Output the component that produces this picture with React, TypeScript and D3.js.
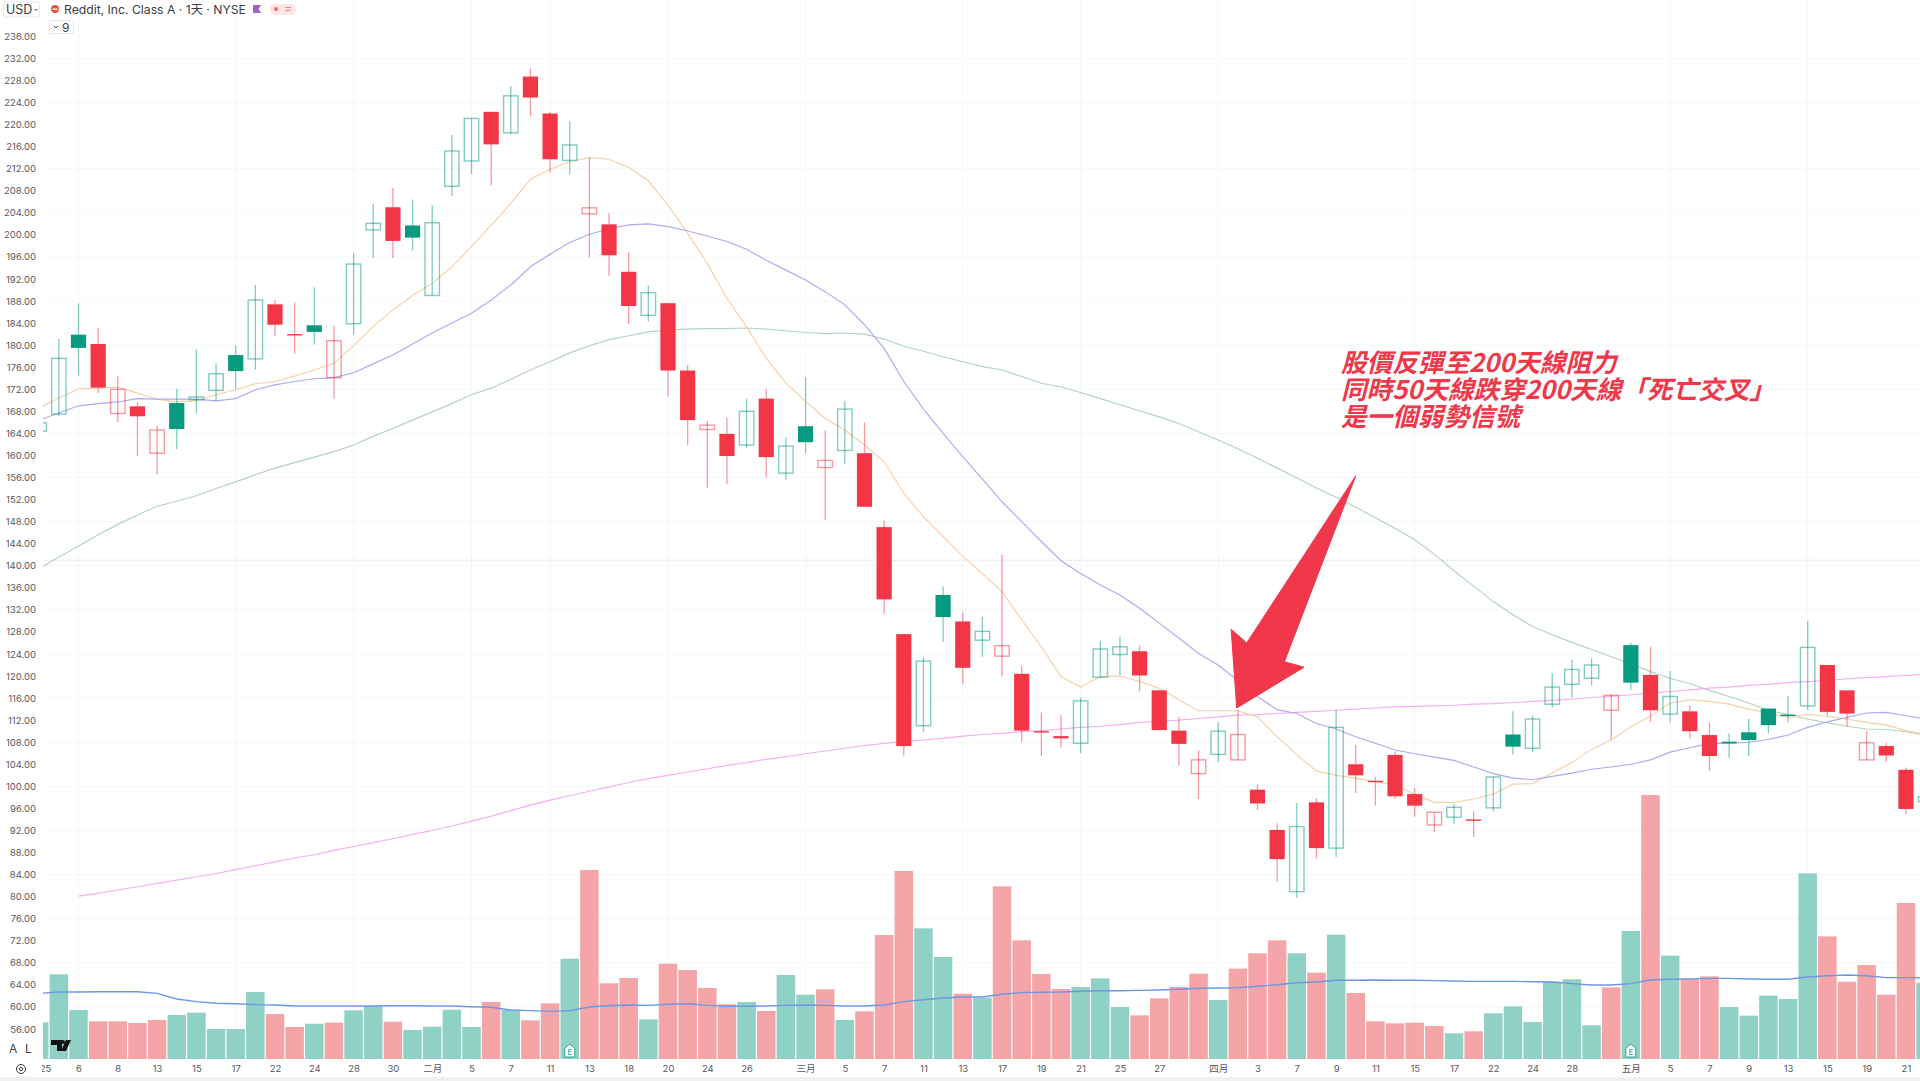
import { useEffect } from "react";
import * as d3 from "d3";

// price candles, one entry per trading day
const opens = [164.4,167.5,181.9,180.2,167.6,168.9,160.4,169.5,170.1,171.8,178.2,177.5,187.4,182,183.6,174.1,183.9,200.9,205,201.7,189,208.8,213.4,222.3,218.5,228.7,222,213.5,203.8,201.9,193.3,185.4,187.6,175.4,164.7,163.9,161.9,170.3,156.8,165.3,157.8,160.9,160.4,147,127.6,111,134.7,129.9,126.5,123.6,120.4,110,109.1,107.8,119.8,123.9,124.5,117.4,110.1,102.3,105.8,104.8,99.4,92.1,80.9,97.1,88.8,104,101,105.7,98.6,93,94.4,94,96.1,109.4,106.9,114.9,118.5,119.6,113.8,125.6,120.2,113.1,113.6,109.3,108.1,109.8,114.1,113,114.6,122,117.4,104.8,107.3,103,97.2];
const highs = [166,181.1,187.6,183.1,174.3,169.7,165.4,172.1,179.2,176.7,179.9,190.9,188.2,187.7,190.5,183.5,196.7,205.6,208.5,206.4,205.4,218.1,221.1,222.3,227,230.2,222.3,220.6,214,203.9,196.8,190.8,187.6,176.4,166.3,166.9,170.2,172,163.3,174.2,164.5,169.9,166,148.2,127.6,123.4,136.3,131.5,130.7,142,121.8,113.4,112.9,116.1,126.4,127.2,125.5,117.4,112.6,106.5,111.6,113.8,100.4,93.3,97,97.8,113.9,107.5,101.7,106.3,99.7,95.3,96.8,95.5,101.7,113.6,112.8,120.5,123,123.2,116.8,126.1,125.3,120.9,114.7,111.6,109.6,112.2,114.1,116.4,130,122,117.4,110,107.9,103.4,98.5];
const lows = [164,167.1,174.5,171.3,166,159.9,156.6,161.1,167.6,169.8,172.1,175.6,181.6,178.5,180.1,170.3,181.9,195.8,195.8,197.2,189,207,211,209,218.3,221.5,211.3,211,195.9,192.6,183.8,184.3,170.7,161.9,154.2,154.8,161.3,156,155.6,160.4,148.3,158.4,150.7,131.3,105.6,109.9,126.2,118.6,123.5,119.9,108.1,105.5,107,106,119.8,120.2,117.2,110.2,103.8,97.7,104.4,104.8,95.7,82.7,79.8,86.9,87.2,98.8,96.5,97.7,94.5,91.7,93.2,90.8,95.5,105.8,106.2,114.3,116.1,118.3,108.5,117.5,111.7,111.6,108.7,102.8,105.2,105.5,109.6,111.6,113.9,112.8,110.8,104.8,104.5,95,96.8];
const closes = [165.9,177.6,179.5,172.3,172,167.1,164.6,164.8,170.6,174.8,175.3,188.2,183.7,182,182.4,180.8,194.7,202.1,198.9,199.5,202.2,215.2,221.1,216.4,225.2,224.9,213.7,216.3,204.9,196.3,187.1,189.5,175.4,166.4,165.5,159.9,168,159.7,161.7,162.4,159.1,168.4,150.7,133.9,107.3,122.7,130.7,121.5,128.1,125.5,110.1,110,108.7,115.5,124.9,125.3,120.1,110.2,107.7,104.8,110,109.4,96.9,86.8,92.7,88.8,110.7,102,101,98.2,96.5,95.3,96.2,94,101.7,107.2,112.2,118,121.2,122,116.5,118.8,113.8,116.3,110,105.5,107.8,108.4,111.1,113,125.2,113.5,113.2,107.9,105.6,95.9,98.1];

// volume in millions of shares and its moving average
const volumes = [3.06,7.06,4.08,3.14,3.14,3,3.25,3.67,3.86,2.5,2.5,5.58,3.75,2.67,2.94,3.03,4.06,4.42,3.11,2.42,2.69,4.11,2.67,4.75,4.08,3.22,4.64,8.36,15.75,6.31,6.75,3.31,7.94,7.42,5.92,4.56,4.75,4,7,5.36,5.81,3.25,3.97,10.33,15.67,10.89,8.5,5.44,5.11,14.39,9.89,7.08,5.83,6,6.72,4.33,3.64,5.06,6,7.11,4.92,7.53,8.81,9.89,8.81,7.19,10.36,5.5,3.14,2.97,3.03,2.75,2.14,2.31,3.81,4.39,3.08,6.44,6.64,2.81,5.97,10.67,22,8.61,6.64,6.89,4.33,3.61,5.28,5,15.47,10.22,6.44,7.83,5.36,13,6.36];
const volumeMa = [5.47,5.58,5.58,5.61,5.61,5.61,5.47,5,4.78,4.64,4.61,4.53,4.5,4.42,4.42,4.42,4.42,4.42,4.44,4.44,4.42,4.42,4.36,4.31,4.08,4.03,3.97,4.03,4.33,4.44,4.5,4.47,4.56,4.61,4.47,4.39,4.39,4.42,4.47,4.5,4.47,4.42,4.42,4.5,4.78,4.94,5.08,5.17,5.17,5.39,5.53,5.56,5.58,5.64,5.69,5.69,5.72,5.75,5.81,5.89,5.92,5.94,6.06,6.19,6.36,6.42,6.56,6.56,6.58,6.56,6.56,6.53,6.5,6.47,6.47,6.47,6.44,6.42,6.28,6.17,6.17,6.28,6.58,6.64,6.67,6.72,6.72,6.67,6.64,6.64,6.83,6.94,7,6.94,6.78,6.78,6.78];

// moving averages on the price pane
const maOrange = [168.6,170.4,172.1,172.2,172.4,171.3,170.2,169.7,169.9,171,171.9,173,173.4,174.4,175.5,176.7,179.9,183.4,186.4,189,191.2,194.2,197.9,201.7,205.7,210.1,211.9,213.3,214,213.7,212.2,209.8,205.4,200.3,194.8,188.5,183.3,177.6,173.1,169.8,166.7,164.6,161.9,158.9,153.1,148.9,145.3,141.7,138.6,135.3,130.2,125.3,119.9,118,119.9,120,119,117.8,115.7,113.7,113.7,113.7,112.6,109,105.7,102.8,102,101.5,100.8,100.3,98.5,97.1,97.1,97.7,98.6,100.4,100.5,102.4,104.3,106.7,108.4,110.8,112.7,115.1,115.7,115.4,114.9,114,113.3,112.5,113,112.7,112.2,111.6,111.1,110.1,109.4];
const maPurple = [166.4,167.7,169,169.4,169.7,170.3,170.2,170.2,170.2,169.9,170.3,171.9,172.8,173.4,173.9,174.1,175,176.6,178.2,180.2,182.2,184,185.8,188.2,190.9,194.2,196.5,198.6,200.1,201.1,201.8,202,201.5,200.7,199.8,198.8,197.4,195.4,193.6,191.8,189.7,187.3,183.7,179.4,173.4,168.4,164,159.8,155.7,151.6,148,144.4,140.9,138.6,136.5,134.7,132.3,129.6,126.9,124.1,122,119.2,116.3,113.9,113.2,111.4,110.4,109,107.8,106.6,105.9,105.3,104.7,103.5,102.3,101.5,101.2,101.8,102.4,103.1,103.5,104,104.8,106.2,107,107.8,107.8,108,108.5,109.3,110.7,111.7,112.5,113.3,113.4,112.8,112.2];
const maGreen = [139.5,141.6,143.6,145.6,147.5,149.2,150.8,151.7,152.7,154,155.2,156.5,157.7,158.7,159.7,160.7,161.9,163.5,164.9,166.4,167.9,169.4,171,172.2,173.8,175.5,177,178.6,179.9,181,181.7,182.4,182.75,182.9,183,183,183.1,182.9,182.6,182.3,182.1,182.2,182,181.1,179.8,178.9,177.9,177,176.1,175.5,174.3,173.1,172.4,171.4,170.3,169.2,168.1,167,165.8,164.3,162.8,161.2,159.5,157.7,155.9,154.1,152.4,150.6,148.7,146.8,144.7,142.1,139.1,136.3,133.5,131.1,129,127.5,126.1,124.8,123.5,122.2,120.8,119.6,118.6,117.4,116.3,115.1,113.8,113,112.2,111.5,110.9,110.4,110.3,109.9,109.3];
const maPink = [NaN,NaN,80.1,80.6,81.2,81.8,82.4,83,83.6,84.2,84.9,85.6,86.3,87,87.6,88.4,89.1,89.8,90.5,91.3,92,92.8,93.7,94.6,95.6,96.6,97.5,98.3,99.1,99.9,100.7,101.4,102,102.6,103.2,103.8,104.3,104.9,105.4,105.9,106.4,106.9,107.4,107.8,108.1,108.4,108.7,109.1,109.4,109.6,109.9,110.1,110.4,110.7,110.9,111.2,111.6,111.8,112,112.3,112.6,112.9,113,113.2,113.4,113.6,113.8,114,114.2,114.4,114.5,114.6,114.7,114.9,115,115.2,115.4,115.6,115.8,116.1,116.3,116.6,116.9,117.2,117.5,117.8,118,118.3,118.5,118.8,119,119.2,119.5,119.7,119.9,120.1,120.3];
const priceLine = 141;

// axis labels
const priceTicks = d3.range(56, 237, 4);
const dayTicks = [0,2,4,6,8,10,12,14,16,18,20,22,24,26,28,30,32,34,36,39,41,43,45,47,49,51,53,55,57,60,62,64,66,68,70,72,74,76,78,81,83,85,87,89,91,93,95];
const dayLabels = ["2025","6","8","13","15","17","22","24","28","30","二月","5","7","11","13","18","20","24","26","三月","5","7","11","13","17","19","21","25","27","四月","3","7","9","11","15","17","22","24","28","五月","5","7","9","13","15","19","21"];
const gridDays = [2,10,16,22,26,32,39,47,53,60,70,83,90];
const gridPrices = [60,68,76,84,92,100,108,116,124,132,140,148,156,164,172,180,188,196,204,212,224,232];
const earningsDays = [27, 81];
const annotationLines = ["股價反彈至200天線阻力", "同時50天線跌穿200天線「死亡交叉」", "是一個弱勢信號"];
const arrowPoints: [number, number][] = [[67,156.3],[63.37,122.6],[64.37,121.6],[60.94,114.2],[60.66,128.5],[61.45,126]];

const RED = "#f23645";
const GREEN = "#089981";
const UI_FONT = "Inter, 'Noto Sans CJK TC', sans-serif";

function App() {
	useEffect(() => {
		drawChart();
	}, []);

	function drawChart() {
		d3.select("#chart").select("svg").remove();

		const svg = d3
			.select("#chart")
			.append("svg")
			.attr("width", 1920)
			.attr("height", 1081)
			.style("position", "absolute")
			.style("left", 0)
			.style("top", 0)
			.style("display", "block")
			.style("background", "#ffffff");

		const x = d3.scaleLinear().domain([0, 96]).range([39.2, 39.2 + 19.65 * 96]);
		const y = d3.scaleLinear().domain([56, 236]).range([1029, 36.3]);
		const yVol = d3.scaleLinear().domain([0, 22]).range([1059, 795]);

		svg.append("clipPath").attr("id", "plot").append("rect").attr("x", 43).attr("y", 0).attr("width", 1877).attr("height", 1060);
		svg.append("clipPath").attr("id", "days").append("rect").attr("x", 42).attr("y", 1060).attr("width", 1878).attr("height", 18);

		// Faint grid
		const plot = svg.append("g").attr("clip-path", "url(#plot)");
		plot.append("g")
			.selectAll("line")
			.data(gridDays)
			.join("line")
			.attr("x1", (d) => x(d))
			.attr("x2", (d) => x(d))
			.attr("y1", 0)
			.attr("y2", 1060)
			.attr("stroke", "#f4f8f8");
		plot.append("g")
			.selectAll("line")
			.data(gridPrices)
			.join("line")
			.attr("x1", 43)
			.attr("x2", 1920)
			.attr("y1", (d) => y(d))
			.attr("y2", (d) => y(d))
			.attr("stroke", "#f5f8f8");

		// Volume bars, coloured by close against the previous close
		const isUp = (i: number) => i === 0 || closes[i] >= closes[i - 1];
		plot.append("g")
			.selectAll("rect")
			.data(volumes)
			.join("rect")
			.attr("x", (_, i) => x(i) - 9.25)
			.attr("width", 18.5)
			.attr("y", (d) => yVol(d))
			.attr("height", (d) => yVol(0) - yVol(d))
			.attr("fill", (_, i) => (isUp(i) ? "#8fd1c4" : "#f5a5a7"));

		const volLine = d3
			.line<number>()
			.x((_, i) => x(i))
			.y((d) => yVol(d));
		plot.append("path").attr("d", volLine(volumeMa)).attr("fill", "none").attr("stroke", "#6f96e3").attr("stroke-width", 1.4);

		// Last price line
		plot.append("line")
			.attr("x1", 43)
			.attr("x2", 1920)
			.attr("y1", y(priceLine))
			.attr("y2", y(priceLine))
			.attr("stroke", "#b5e3d8")
			.attr("stroke-dasharray", "1 1");

		// Moving averages
		const maLine = d3
			.line<number>()
			.defined((d) => !Number.isNaN(d))
			.x((_, i) => x(i))
			.y((d) => y(d));
		const maSeries: [number[], string][] = [
			[maGreen, "#b4d3bd"],
			[maPink, "#f2b0f2"],
			[maOrange, "#f7d0a6"],
			[maPurple, "#aeaaef"],
		];
		plot.append("g")
			.selectAll("path")
			.data(maSeries)
			.join("path")
			.attr("d", (d) => maLine(d[0]))
			.attr("fill", "none")
			.attr("stroke", (d) => d[1])
			.attr("stroke-width", 1.15);

		// Candles: hollow when close is above open
		const candle = plot.append("g").selectAll("g").data(closes).join("g");
		candle
			.append("line")
			.attr("x1", (_, i) => x(i))
			.attr("x2", (_, i) => x(i))
			.attr("y1", (_, i) => y(highs[i]))
			.attr("y2", (_, i) => y(lows[i]))
			.attr("stroke", (_, i) => (isUp(i) ? GREEN : RED))
			.attr("stroke-opacity", 0.5)
			.attr("stroke-width", 1.3);
		candle
			.append("rect")
			.attr("x", (_, i) => (closes[i] > opens[i] ? x(i) - 7.2 : x(i) - 7.6))
			.attr("width", (_, i) => (closes[i] > opens[i] ? 14.4 : 15.2))
			.attr("y", (_, i) => y(Math.max(opens[i], closes[i])))
			.attr("height", (_, i) => Math.max(Math.abs(y(opens[i]) - y(closes[i])), 1.4))
			.attr("fill", (_, i) => (closes[i] > opens[i] ? "#ffffff" : isUp(i) ? GREEN : RED))
			.attr("fill-opacity", (_, i) => (closes[i] > opens[i] ? 0 : 1))
			.attr("stroke", (_, i) => (closes[i] > opens[i] ? (isUp(i) ? GREEN : RED) : "none"))
			.attr("stroke-opacity", 0.5)
			.attr("stroke-width", 1.4);

		// Price axis
		const yAxis = svg
			.append("g")
			.attr("transform", "translate(36, 0)")
			.call(d3.axisLeft(y).tickValues(priceTicks).tickSize(0).tickPadding(0).tickFormat((d) => d3.format(".2f")(d as number)));
		yAxis.select(".domain").remove();
		yAxis.selectAll("text").attr("fill", "#55585f").style("font-family", UI_FONT).style("font-size", "9.5px");

		// Date axis, clipped by an outer group so the first label is cut at the pane edge
		const xAxis = svg
			.append("g")
			.attr("clip-path", "url(#days)")
			.append("g")
			.attr("transform", "translate(0, 1065)")
			.call(
				d3
					.axisBottom(x)
					.tickValues(dayTicks)
					.tickSize(0)
					.tickPadding(0)
					.tickFormat((d) => dayLabels[dayTicks.indexOf(d as number)]),
			);
		xAxis.select(".domain").remove();
		xAxis.selectAll("text").attr("fill", "#55585f").style("font-family", UI_FONT).style("font-size", "9.5px");

		// Earnings badges
		const badge = svg
			.append("g")
			.selectAll("g")
			.data(earningsDays)
			.join("g")
			.attr("transform", (d) => `translate(${x(d)}, 1051)`);
		badge.append("path").attr("d", "M-5,-3 L0,-7 L5,-3 L5,6 L-5,6 Z").attr("fill", "#ffffff").attr("stroke", "#2ba394").attr("stroke-width", 1);
		badge.append("text").attr("text-anchor", "middle").attr("y", 4).attr("fill", "#2ba394").style("font-family", UI_FONT).style("font-size", "8px").text("E");

		// Header
		const head = svg.append("g").style("font-family", UI_FONT);
		head.append("rect").attr("x", 3.5).attr("y", 2).attr("width", 36).attr("height", 15).attr("rx", 2).attr("fill", "#ffffff").attr("stroke", "#e6e8eb");
		head.append("text").attr("x", 6).attr("y", 14).attr("fill", "#3a3d44").style("font-size", "12.5px").text("USD");
		head.append("path").attr("d", "M34.5,9 L36,10.5 L37.5,9").attr("fill", "none").attr("stroke", "#3a3d44");
		head.append("circle").attr("cx", 55).attr("cy", 9).attr("r", 4).attr("fill", "#e5533a");
		head.append("rect").attr("x", 52.5).attr("y", 8.5).attr("width", 5).attr("height", 1.5).attr("fill", "#ffffff");
		head.append("text").attr("x", 64).attr("y", 13.5).attr("fill", "#3a3d44").style("font-size", "12.2px").text("Reddit, Inc. Class A · 1天 · NYSE");
		head.append("path").attr("d", "M253,5 L261,5 L258.5,9 L261,13 L253,13 Z").attr("fill", "#a25fc4");
		head.append("rect").attr("x", 270).attr("y", 4).attr("width", 26).attr("height", 11).attr("rx", 5.5).attr("fill", "#fde4e6");
		head.append("circle").attr("cx", 276).attr("cy", 9).attr("r", 2).attr("fill", "#ee6a6a");
		head.append("path").attr("d", "M285,7.5 H291 M285,10.5 H291").attr("stroke", "#e58a8a");
		head.append("rect").attr("x", 49.5).attr("y", 20.5).attr("width", 24).attr("height", 13).attr("rx", 2).attr("fill", "#ffffff").attr("stroke", "#e3e5e8");
		head.append("path").attr("d", "M54,26 L56,28 L58,26").attr("fill", "none").attr("stroke", "#3a3d44");
		head.append("text").attr("x", 62).attr("y", 32).attr("fill", "#3a3d44").style("font-size", "12px").text("9");

		// Corner controls
		const corner = svg.append("g").style("font-family", UI_FONT);
		corner.append("text").attr("x", 9).attr("y", 1053).attr("fill", "#3a3d44").style("font-size", "12px").text("A");
		corner.append("text").attr("x", 25).attr("y", 1053).attr("fill", "#3a3d44").style("font-size", "12px").text("L");
		corner.append("circle").attr("cx", 21).attr("cy", 1069).attr("r", 4.5).attr("fill", "none").attr("stroke", "#3a3d44");
		corner.append("circle").attr("cx", 21).attr("cy", 1069).attr("r", 1.6).attr("fill", "none").attr("stroke", "#3a3d44");
		corner.append("path").attr("d", "M51,1040 H62 V1051 H57 V1045 H51 Z M66,1040 H71 L66,1051 H61 Z").attr("fill", "#111111");
		corner.append("circle").attr("cx", 63).attr("cy", 1042).attr("r", 2).attr("fill", "#111111");

		svg.append("rect").attr("x", 0).attr("y", 1077).attr("width", 1920).attr("height", 4).attr("fill", "#f0f0f1");

		// Annotation
		const arrowLine = d3
			.line<[number, number]>()
			.x((d) => x(d[0]))
			.y((d) => y(d[1]));
		svg.append("path").attr("d", `${arrowLine(arrowPoints)}Z`).attr("fill", "#f0384a").attr("stroke", "#f0384a").attr("stroke-linejoin", "round");

		svg.append("g")
			.selectAll("text")
			.data(annotationLines)
			.join("text")
			.attr("x", 1341)
			.attr("y", (_, i) => 372 + i * 27)
			.attr("fill", "#f0384a")
			.style("font-family", "'Noto Sans CJK TC', sans-serif")
			.style("font-style", "italic")
			.style("font-weight", 700)
			.style("font-size", "25.6px")
			.text((d) => d);
	}

	return <div id="chart" />;
}

export default App;
